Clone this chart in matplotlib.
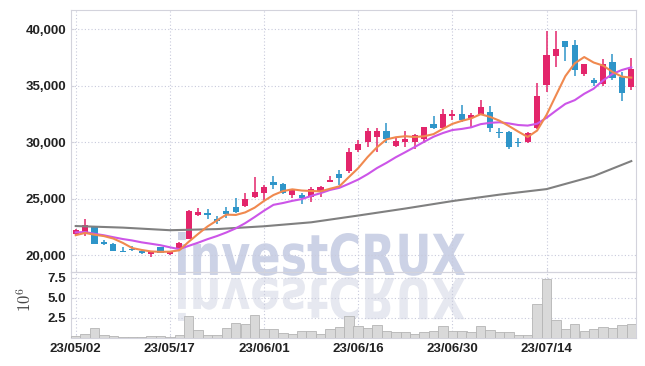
import numpy as np
import pandas as pd
import matplotlib
matplotlib.use("Agg")
import matplotlib.pyplot as plt
from matplotlib.patches import PathPatch
from matplotlib.textpath import TextPath
from matplotlib.font_manager import FontProperties, findfont
from matplotlib.transforms import Affine2D, IdentityTransform
from matplotlib.ticker import FuncFormatter

plt.rcParams['mathtext.fontset'] = 'cm'

# trading days (KRX holidays removed)
dates = pd.bdate_range("2023-05-02", "2023-07-27", freq="C",
                       holidays=["2023-05-05", "2023-05-29", "2023-06-06"])

opens = [21850, 21860, 22500, 21180, 20970, 20380, 20560, 20380, 20090, 20680,
         20060, 20590, 21420, 23570, 23740, 23210, 23920, 24250, 24310, 25160,
         25460, 26490, 26280, 25310, 25310, 25160, 25600, 26490, 27140, 27460,
         29290, 30030, 30470, 30970, 29650, 30030, 30030, 30240, 31570, 31210,
         32330, 32450, 32150, 32450, 32630, 30860, 30920, 29970, 30030, 31270,
         35050, 37640, 38940, 38590, 35990, 35490, 35110, 37060, 35780, 34920]
highs = [22300, 23200, 22600, 21330, 21030, 20730, 20820, 20420, 20380, 20700,
         20400, 21180, 23980, 24190, 24040, 23450, 24270, 25020, 25460, 26880,
         26200, 26990, 26400, 25780, 25460, 25990, 26100, 27020, 27520, 29440,
         30180, 31210, 31210, 31660, 30400, 30970, 30700, 31350, 32330, 32920,
         32830, 33280, 32540, 33720, 33220, 31270, 31000, 30330, 30860, 35280,
         39850, 39820, 38960, 39030, 36900, 35700, 37350, 37780, 36240, 37410]
lows = [21800, 21700, 20950, 20890, 20350, 20240, 20350, 20130, 19850, 20180,
        20000, 20560, 21380, 23450, 23160, 22740, 23250, 23700, 24220, 25020,
        24870, 25840, 25430, 25070, 24490, 24660, 25160, 26450, 26200, 27230,
        29090, 29590, 29090, 29890, 29590, 29590, 29380, 29890, 31150, 31150,
        31950, 31800, 31210, 32400, 30860, 30400, 29380, 29590, 29950, 31200,
        34400, 36670, 37170, 35870, 35900, 34990, 34950, 35500, 33630, 34600]
closes = [22200, 22700, 21000, 21000, 20400, 20290, 20420, 20150, 20350, 20200,
          20380, 21030, 23920, 23830, 23510, 23040, 23600, 23780, 24960, 25600,
          26040, 26200, 25510, 25750, 25070, 25840, 26040, 26640, 26840, 29140,
          29820, 30970, 30970, 30320, 30090, 30270, 30620, 31300, 31270, 32450,
          32450, 31950, 32390, 33120, 31270, 30770, 29590, 29890, 30770, 34110,
          37700, 38230, 38430, 36430, 36880, 35280, 36880, 35640, 34310, 36460]
volumes = [0.3, 0.5, 1.25, 0.4, 0.25, 0.12, 0.12, 0.12, 0.2, 0.25,
           0.1, 0.4, 2.8, 1.0, 0.4, 0.4, 1.25, 1.9, 1.8, 2.9,
           1.1, 1.1, 0.6, 0.55, 0.85, 0.85, 0.5, 1.15, 1.4, 2.8,
           1.45, 1.3, 1.65, 0.9, 0.7, 0.8, 0.55, 0.8, 0.9, 1.45,
           0.9, 0.9, 0.8, 1.45, 1.0, 0.8, 0.8, 0.4, 0.35, 4.2,
           7.4, 2.3, 1.1, 1.7, 0.9, 1.1, 1.4, 1.3, 1.6, 1.8]  # millions

# closes before 23/05/02, needed for the 5 and 10 day averages
prior_closes = [22400, 22600, 22300, 22100, 21900, 21700, 21800, 21600, 21500]

# long average (gray) at some days
long_ma_idx = [0, 5, 10, 15, 20, 25, 30, 35, 40, 45, 50, 55, 59]
long_ma = [22570, 22430, 22200, 22300, 22550, 22900, 23500, 24120, 24780,
           25350, 25840, 26990, 28320]

UP = "#e3256b"
DOWN = "#2e95c9"
GRID = "#c8cadc"
SPINE = "#d3d3dc"

x = np.arange(len(closes))
o = np.array(opens)
c = np.array(closes)
up = c >= o
colors = np.where(up, UP, DOWN)

allc = pd.Series(prior_closes + closes)
ma5 = allc.rolling(5).mean().iloc[len(prior_closes):].values
ma10 = allc.rolling(10).mean().iloc[len(prior_closes):].values

W, H = 645, 366
fig = plt.figure(figsize=(W / 100, H / 100), dpi=100)
fig.patch.set_facecolor("white")
L, R = 71, 636
ax = fig.add_axes([L / W, (H - 272) / H, (R - L) / W, (272 - 10) / H])
ax2 = fig.add_axes([L / W, (H - 338) / H, (R - L) / W, (338 - 272) / H], sharex=ax)

for a in (ax, ax2):
    a.set_facecolor("none")
    for s in a.spines.values():
        s.set_color(SPINE)
        s.set_linewidth(0.8)
    a.grid(True, linestyle=(0, (1, 2)), color=GRID, linewidth=0.8)
    a.set_axisbelow(True)
    a.tick_params(length=2.5, color=SPINE, direction="in", labelcolor="#222222")

# candles
ax.vlines(x, lows, highs, colors=colors, linewidth=1.1, zorder=3)
ax.bar(x, np.maximum(np.abs(c - o), 60), bottom=np.minimum(o, c), width=0.66,
       color=colors, zorder=4)
ax.plot(long_ma_idx, long_ma, color="#808080", lw=1.5, zorder=5)
ax.plot(x, ma10, color="#cc55e8", lw=1.5, zorder=5)
ax.plot(x, ma5, color="#f0894f", lw=1.5, zorder=6)

ax.set_xlim(-0.5, 59.5)
ax.set_ylim(18500, 41700)
ax.set_yticks([20000, 25000, 30000, 35000, 40000])
ax.yaxis.set_major_formatter(FuncFormatter(lambda v, p: f"{int(v):,}"))
plt.setp(ax.get_xticklabels(), visible=False)

# volume
ax2.bar(x, volumes, width=1.0, color="#d9d9d9", edgecolor="#b5b5b5", linewidth=0.6, zorder=3)
ax2.set_ylim(0, 8.25)
ax2.set_yticks([2.5, 5.0, 7.5])
ax2.set_yticklabels(["2.5", "5.0", "7.5"])
ax2.set_ylabel(r"$10^{6}$", fontsize=12, color="#444444")
ax2.yaxis.set_label_coords(-0.064, 0.58)

tick_idx = list(range(0, 60, 10))
ax2.set_xticks(tick_idx)
ax2.set_xticklabels([dates[i].strftime("%y/%m/%d") for i in tick_idx])

# narrow font for the tick labels if there is one
try:
    findfont(FontProperties(family="Liberation Sans Narrow"), fallback_to_default=False)
    tick_font, tick_size = "Liberation Sans Narrow", 10.5
except ValueError:
    tick_font, tick_size = "Liberation Sans", 9.5
for lab in ax.get_yticklabels() + ax2.get_yticklabels() + ax2.get_xticklabels():
    lab.set_family(tick_font)
    lab.set_fontweight("bold")
    lab.set_fontsize(tick_size)

# watermark with its reflection
fp = FontProperties(family="DejaVu Sans", weight="bold")
tp = TextPath((0, 0), "investCRUX", size=100, prop=fp)
bb = tp.get_extents()
sx = (465 - 178) / (bb.x1 - bb.x0)
sy = (275 - 232) / bb.y1
top = Affine2D().translate(-bb.x0, 0).scale(sx, sy).translate(178, H - 275)
refl = Affine2D().translate(-bb.x0, 0).scale(sx, -sy).translate(178, H - 278)
fig.add_artist(PathPatch(top.transform_path(tp), transform=IdentityTransform(),
                         facecolor="#ccd2e6", edgecolor="none", zorder=-1))
fig.add_artist(PathPatch(refl.transform_path(tp), transform=IdentityTransform(),
                         facecolor="#e6e8f0", edgecolor="none", zorder=-1))

fig.savefig("out.png", dpi=100)
